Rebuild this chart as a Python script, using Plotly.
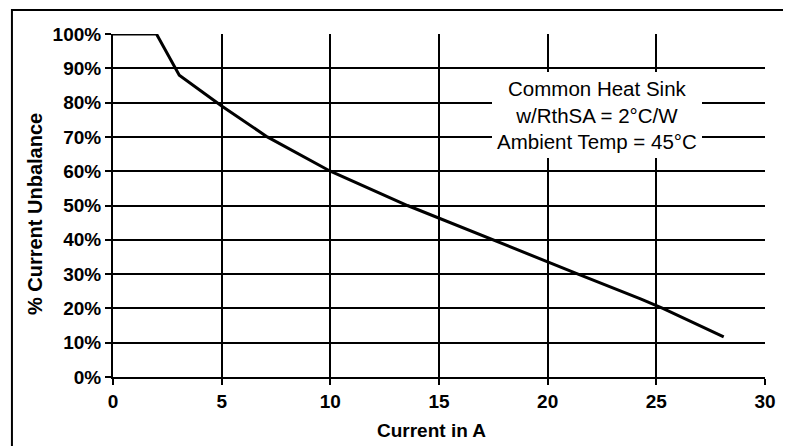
import plotly.graph_objects as go

# Data
current_a = [0, 2.0, 3.05, 5.0, 7.1, 10.0, 13.55, 15.0, 17.4, 20.0, 21.4, 24.3, 25.3, 28.1]
unbalance_pct = [100, 100, 88, 79, 70, 60, 50, 46.3, 40, 33.5, 30, 22.7, 20, 11.7]

x_tick_vals = [0, 5, 10, 15, 20, 25, 30]
x_tick_text = ["0", "5", "10", "15", "20", "25", "30"]
y_tick_vals = [0, 10, 20, 30, 40, 50, 60, 70, 80, 90, 100]
y_tick_text = ["0%", "10%", "20%", "30%", "40%", "50%", "60%", "70%", "80%", "90%", "100%"]

x_title = "Current in A"
y_title = "% Current Unbalance"
note_lines = ["Common Heat Sink", "w/RthSA = 2°C/W", "Ambient Temp = 45°C"]

FONT = "Liberation Sans, Arial, sans-serif"

fig = go.Figure()
fig.add_trace(go.Scatter(
    x=current_a, y=unbalance_pct, mode="lines",
    line=dict(color="black", width=3),
    showlegend=False, hoverinfo="skip",
))

axis_common = dict(
    showgrid=True, gridcolor="black", gridwidth=2,
    showline=True, linecolor="black", linewidth=2,
    ticks="outside", ticklen=6, tickwidth=2, tickcolor="black",
    zeroline=False,
    tickfont=dict(family=FONT, size=19, color="black", weight="bold"),
)

fig.update_xaxes(range=[0, 30], tickvals=x_tick_vals, ticktext=x_tick_text,
                 **axis_common)
fig.update_yaxes(range=[0, 100], tickvals=y_tick_vals, ticktext=y_tick_text,
                 **axis_common)

fig.add_annotation(
    xref="paper", yref="paper", x=0.488, y=-0.157,
    text=f"<b>{x_title}</b>", showarrow=False,
    xanchor="center", yanchor="middle",
    font=dict(family=FONT, size=19, color="black"),
)
fig.add_annotation(
    xref="paper", yref="paper", x=-0.1196, y=0.475,
    text=f"<b>{y_title}</b>", showarrow=False, textangle=-90,
    xanchor="center", yanchor="middle",
    font=dict(family=FONT, size=20, color="black"),
)
fig.add_annotation(
    xref="paper", yref="paper", x=0.742, y=0.765,
    text="<br>".join(note_lines), showarrow=False,
    xanchor="center", yanchor="middle", align="center",
    bgcolor="white", borderpad=5, borderwidth=0,
    font=dict(family=FONT, size=20.5, color="black"),
)

# Outer frame
fig.add_shape(type="rect", xref="paper", yref="paper",
              x0=-0.155, x1=1.036, y0=-0.35, y1=1.07,
              line=dict(color="black", width=2), layer="above")

# The page places the figure at an 8px body margin; size it to fill the window.
fig.update_layout(
    width=783, height=438,
    margin=dict(l=105, r=26, t=26, b=69),
    paper_bgcolor="white", plot_bgcolor="white",
    font=dict(family=FONT, color="black"),
)

fig.write_html("out.html")
